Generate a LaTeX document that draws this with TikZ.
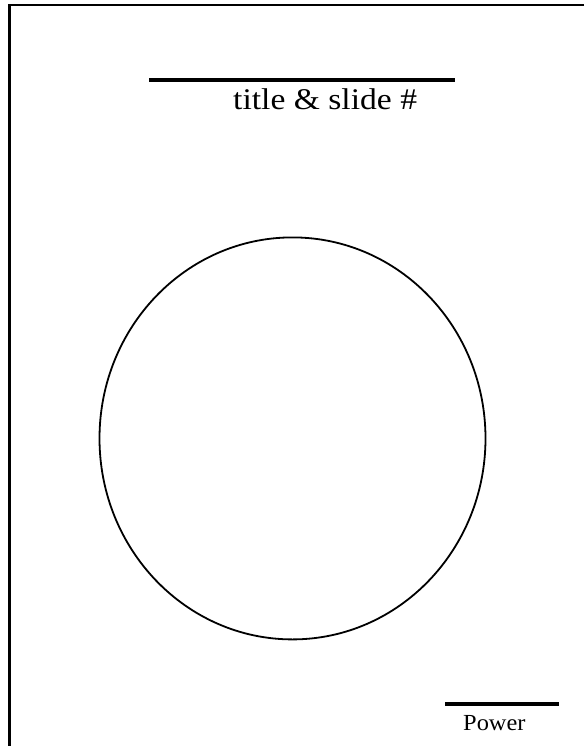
\documentclass[tikz,border=0pt]{standalone}
\usepackage{fontspec}
\setmainfont{Liberation Serif}
\usetikzlibrary{positioning}

\begin{document}
\begin{tikzpicture}[x=1pt,y=-1pt,
    frameline/.style={line width=2.2pt},
    barline/.style={line width=3.2pt},
    lbl/.style={inner sep=0pt,anchor=base west}]
    \useasboundingbox (0,0) rectangle (584,746);
    % page frame (open on the right and bottom)
    \draw[frameline] (584,5) -| (9.5,746);
    % title bar and label
    \draw[barline] (149,80) -- (455,80);
    \node[lbl,font=\fontsize{30}{34}\selectfont] (title) at (233,110) {\scalebox{1.12}[1]{title \& slide \#}};
    % the round face
    \draw[line width=1.8pt] (292.5,438.4) ellipse [x radius=193, y radius=201];
    % power bar and label
    \draw[barline] (445,704) -- (559,704);
    \node[lbl,font=\fontsize{23}{27}\selectfont] (power) at (463,730) {\scalebox{1.06}[1]{Power}};
\end{tikzpicture}
\end{document}
